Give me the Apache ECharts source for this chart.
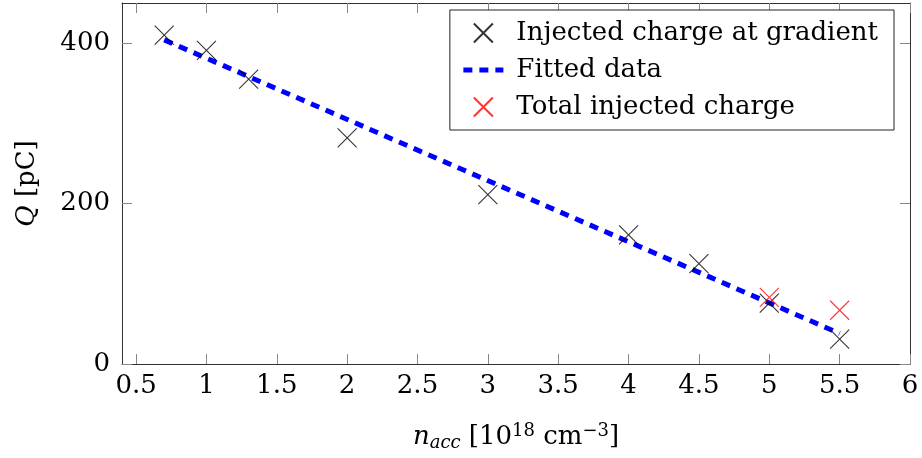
<!DOCTYPE html>
<html>
<head>
<meta charset="utf-8">
<script src="https://cdn.jsdelivr.net/npm/echarts@6/dist/echarts.min.js"></script>
<style>html,body{margin:0;padding:0;background:#fff}#c{width:922px;height:458px}</style>
</head>
<body>
<div id="c"></div>
<script>
const gradX = [0.7, 1, 1.3, 2, 3, 4, 4.5, 5, 5.5];
const gradQ = [410, 391, 355, 282, 211, 161, 125, 76, 31];
const totalX = [5, 5.5];
const totalQ = [83, 67];
const fitX = [0.7, 5.5];
const fitQ = [404, 38];
const xTicks = [0.5, 1, 1.5, 2, 2.5, 3, 3.5, 4, 4.5, 5, 5.5, 6];
const yTicks = [0, 200, 400];

const FONT = 'DejaVu Serif';
const FS = 26;
const cross = 'path://M0 0L10 10M10 0L0 10';
const zip = (a, b) => a.map((v, i) => [v, b[i]]);

const frameLine = {show: true, onZero: false, lineStyle: {color: '#333', width: 1}};
const tick = (vals) => ({show: true, inside: true, length: 10, customValues: vals, lineStyle: {color: '#888', width: 1}});
const dash = {color: '#0000ff', width: 5, type: [9, 7], cap: 'butt'};

const chart = echarts.init(document.getElementById('c'));
chart.setOption({
  animation: false,
  backgroundColor: '#fff',
  grid: {left: 122, right: 12, top: 3, bottom: 94, containLabel: false},
  xAxis: [{
    type: 'value', min: 0.4, max: 6, position: 'bottom',
    axisLine: frameLine, axisTick: tick(xTicks), splitLine: {show: false},
    axisLabel: {customValues: xTicks, fontFamily: FONT, fontSize: FS, color: '#000', margin: 9},
    name: '{i|n}{sub|acc} [10{sup|18} cm{sup|−3}]',
    nameLocation: 'middle', nameGap: 58,
    nameTextStyle: {fontFamily: FONT, fontSize: FS, color: '#000',
      rich: {
        i: {fontFamily: FONT, fontSize: FS, fontStyle: 'italic', color: '#000'},
        sub: {fontFamily: FONT, fontSize: 18, fontStyle: 'italic', color: '#000', padding: [12, 0, 0, 0]},
        sup: {fontFamily: FONT, fontSize: 18, color: '#000', padding: [0, 0, 12, 0]}
      }}
  }, {
    type: 'value', min: 0.4, max: 6, position: 'top',
    axisLine: frameLine, axisTick: tick(xTicks), axisLabel: {show: false}, splitLine: {show: false}
  }],
  yAxis: [{
    type: 'value', min: 0, max: 450, position: 'left',
    axisLine: frameLine, axisTick: tick(yTicks), splitLine: {show: false},
    axisLabel: {customValues: yTicks, fontFamily: FONT, fontSize: FS, color: '#000', margin: 12},
    name: '{i|Q} [pC]', nameLocation: 'middle', nameGap: 82, nameRotate: 90,
    nameTextStyle: {fontFamily: FONT, fontSize: FS, color: '#000',
      rich: {i: {fontFamily: FONT, fontSize: FS, fontStyle: 'italic', color: '#000'}}}
  }, {
    type: 'value', min: 0, max: 450, position: 'right',
    axisLine: frameLine, axisTick: tick(yTicks), axisLabel: {show: false}, splitLine: {show: false}
  }],
  legend: {
    orient: 'vertical', right: 28, top: 10,
    backgroundColor: '#fff', borderColor: '#222', borderWidth: 1, borderRadius: 0,
    padding: [8, 16, 8, 11], itemGap: 7, itemWidth: 40, itemHeight: 19,
    textStyle: {fontFamily: FONT, fontSize: FS, color: '#000', lineHeight: 30, padding: [0, 0, 0, 8]},
    data: [
      'Injected charge at gradient',
      {name: 'Fitted data', itemStyle: {opacity: 0}, lineStyle: dash},
      'Total injected charge'
    ]
  },
  series: [{
    name: 'Fitted data', type: 'line', data: zip(fitX, fitQ),
    showSymbol: false, symbol: 'none', z: 2,
    lineStyle: dash,
    itemStyle: {color: '#0000ff'}
  }, {
    name: 'Injected charge at gradient', type: 'scatter', data: zip(gradX, gradQ),
    symbol: cross, symbolSize: 19, z: 3,
    itemStyle: {color: 'rgba(0,0,0,0)', borderColor: '#000', borderWidth: 1.1}
  }, {
    name: 'Total injected charge', type: 'scatter', data: zip(totalX, totalQ),
    symbol: cross, symbolSize: 19, z: 3,
    itemStyle: {color: 'rgba(0,0,0,0)', borderColor: '#ff0000', borderWidth: 1.1}
  }]
});
</script>
</body>
</html>
